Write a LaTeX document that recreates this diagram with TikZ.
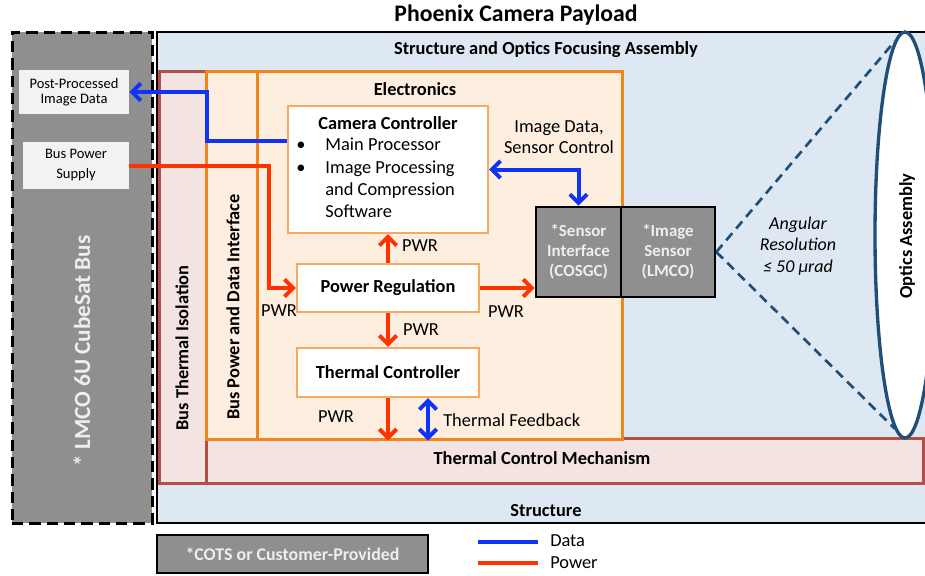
\documentclass[tikz,border=0pt]{standalone}
\usepackage{fontspec}
\setmainfont{Carlito}
\usetikzlibrary{arrows.meta,shapes.geometric}

\definecolor{busgray}{HTML}{8F8F8F}
\definecolor{palegray}{HTML}{F2F2F2}
\definecolor{skyfill}{HTML}{DEE8F3}
\definecolor{rosefill}{HTML}{F3E3E1}
\definecolor{roseline}{HTML}{B34E49}
\definecolor{peachfill}{HTML}{FDEEE0}
\definecolor{orangeline}{HTML}{F0861A}
\definecolor{softorange}{HTML}{F9A862}
\definecolor{datablue}{HTML}{1034F5}
\definecolor{powerred}{HTML}{FF3300}
\definecolor{navy}{HTML}{1F4E79}
\definecolor{lighttext}{HTML}{EEEEEE}

% one drawing unit = one pixel of the 925 x 575 canvas
\newcommand\pxl[1]{#1*0.75pt}

\tikzset{
  block/.style 2 args={rectangle, inner sep=0pt,
    minimum width=\pxl{#1}, minimum height=\pxl{#2}},
  lbl/.style={font=\bfseries\fontsize{13.8}{16}\selectfont, inner sep=0pt},
  plain/.style={font=\fontsize{13.8}{16.6}\selectfont, inner sep=0pt},
  thermal/.style={fill=rosefill, draw=roseline, line width=2.25pt},
  orangebox/.style={fill=peachfill, draw=orangeline, line width=2.25pt},
  whitebox/.style={fill=white, draw=softorange, line width=1.6pt},
  cots/.style={fill=busgray, draw=black, line width=2pt},
  cotstext/.style={text=lighttext, font=\bfseries\fontsize{12.7}{15}\selectfont, align=center},
  data/.style={draw=datablue, line width=3pt},
  power/.style={draw=powerred, line width=3pt},
  tip/.style={-{Straight Barb[length=6.5pt,width=13pt]}},
  twotip/.style={{Straight Barb[length=6.5pt,width=13pt]}-{Straight Barb[length=6.5pt,width=13pt]}},
  sight/.style={draw=navy, line width=2pt, dash pattern=on 7pt off 4.5pt},
}

\begin{document}
\begin{tikzpicture}[x=0.75pt, y=-0.75pt]
\useasboundingbox (0,0) rectangle (925,575);

% heading
\node[font=\bfseries\fontsize{17.8}{21}\selectfont, inner sep=0pt] (title) at (516,15) {Phoenix Camera Payload};

% spacecraft bus side
\node[block={140}{491}, fill=busgray, draw=black, line width=2.25pt,
      dash pattern=on 8.5pt off 4.5pt] (bus) at (82,277.5) {};
\node[rotate=90, text=lighttext, font=\bfseries\fontsize{17.4}{21}\selectfont, inner sep=0pt] (busname) at (82,351) {* LMCO 6U CubeSat Bus};
\node[block={110}{44}, fill=palegray, align=center, font=\fontsize{10.9}{11.3}\selectfont] (postproc) at (74,92) {Post-Processed\\Image Data};
\node[block={106}{47}, fill=palegray, align=center, font=\fontsize{10.9}{15}\selectfont] (buspower) at (76,165.5) {Bus Power\\Supply};

% payload structure
\node[block={778}{491}, fill=skyfill, draw=black, line width=1.5pt] (structure) at (546,277.5) {};
\node[lbl] (soflabel) at (546,50) {Structure and Optics Focusing Assembly};
\node[lbl] (structlabel) at (546,511) {Structure};

% thermal isolation and control
\node[block={47}{412}, thermal] (isolation) at (182.5,277) {};
\node[block={717}{45}, thermal] (tcm) at (564.5,460.5) {};
\node[lbl, rotate=90] (isolabel) at (182,348) {Bus Thermal Isolation};
\node[lbl] (tcmlabel) at (542,458) {Thermal Control Mechanism};

% interface and electronics
\node[block={51}{368}, orangebox] (busif) at (231.5,255) {};
\node[block={365}{368}, orangebox] (elec) at (439.5,255) {};
\node[lbl, rotate=90] (buslabel) at (233,307) {Bus Power and Data Interface};
\node[lbl] (eleclabel) at (415,89) {Electronics};

% camera controller
\node[block={200}{127}, whitebox] (cam) at (388,169.5) {};
\node[lbl] (camtitle) at (388,123) {Camera Controller};
\node[plain, anchor=north west, align=left] (camitems) at (296,135)
  {\renewcommand{\arraystretch}{1}\fontsize{13.8}{16.7}\selectfont
   \begin{tabular}{@{}l@{\hspace{15pt}}l@{}}
   • & Main Processor\\
   • & Image Processing\\
     & and Compression\\
     & Software
   \end{tabular}};

% power regulation and thermal controller
\node[block={182}{48}, whitebox, lbl] (powreg) at (388,288) {Power Regulation};
\node[block={182}{49}, whitebox, lbl] (thermctrl) at (388,372.5) {Thermal Controller};

% COTS sensor pair
\node[block={85}{90}, cots, cotstext] (sensorif) at (578.5,252) {*Sensor\\Interface\\(COSGC)};
\node[block={94}{90}, cots, cotstext] (imgsensor) at (668,252) {*Image\\Sensor\\(LMCO)};

% optics
\node[ellipse, draw=navy, line width=2.5pt, fill=white, inner sep=0pt,
      minimum width=\pxl{60}, minimum height=\pxl{406}] (optics) at (905,235) {};
\node[lbl, rotate=90] (opticslabel) at (907,236) {Optics Assembly};
\draw[sight] (imgsensor.east) -- (optics.93);
\draw[sight] (imgsensor.east) -- (optics.-93);
\node[align=center, font=\itshape\fontsize{13.5}{16.2}\selectfont, inner sep=0pt] (angres) at (798,246)
  {Angular\\Resolution\\≤ 50 μrad};

% data links
\draw[data, tip] ([yshift=21.4pt]cam.west) -- ++(-80,0) |- (postproc.east);
\draw[data, twotip] (cam.east) -| (sensorif.north);
\node[plain, align=center, font=\fontsize{13.8}{15.8}\selectfont] (datalabel) at (559,137) {Image Data,\\Sensor Control};
\draw[data, twotip] ([xshift=30pt]thermctrl.south) -- ([xshift=30pt]thermctrl.south |- elec.south);
\node[plain, anchor=west] (fblabel) at (443,420) {Thermal Feedback};

% power links
\draw[power, tip] (buspower.east) -- ++(140,0) |- (powreg.west);
\draw[power, tip] (powreg.north) -- (cam.south);
\draw[power, tip] (powreg.east) -- (sensorif.west |- powreg.east);
\draw[power, tip] (powreg.south) -- (thermctrl.north);
\draw[power, tip] (thermctrl.south) -- (thermctrl.south |- elec.south);
\node[plain] (pwrin) at (279,311) {PWR};
\node[plain] (pwrcam) at (420,246) {PWR};
\node[plain] (pwrsens) at (506,312) {PWR};
\node[plain] (pwrtc) at (421,330) {PWR};
\node[plain] (pwrtcm) at (336,417) {PWR};

% legend
\node[block={271}{38}, cots, cotstext, font=\bfseries\fontsize{13.4}{16}\selectfont] (cotskey) at (292.5,554) {*COTS or Customer-Provided};
\coordinate (dataA) at (478,542);
\coordinate (dataB) at (538,542);
\coordinate (powA) at (478,563);
\coordinate (powB) at (538,563);
\draw[data] (dataA) -- (dataB);
\draw[power] (powA) -- (powB);
\node[plain, anchor=west] (datakey) at (550,541) {Data};
\node[plain, anchor=west] (powkey) at (550,563) {Power};
\end{tikzpicture}
\end{document}
